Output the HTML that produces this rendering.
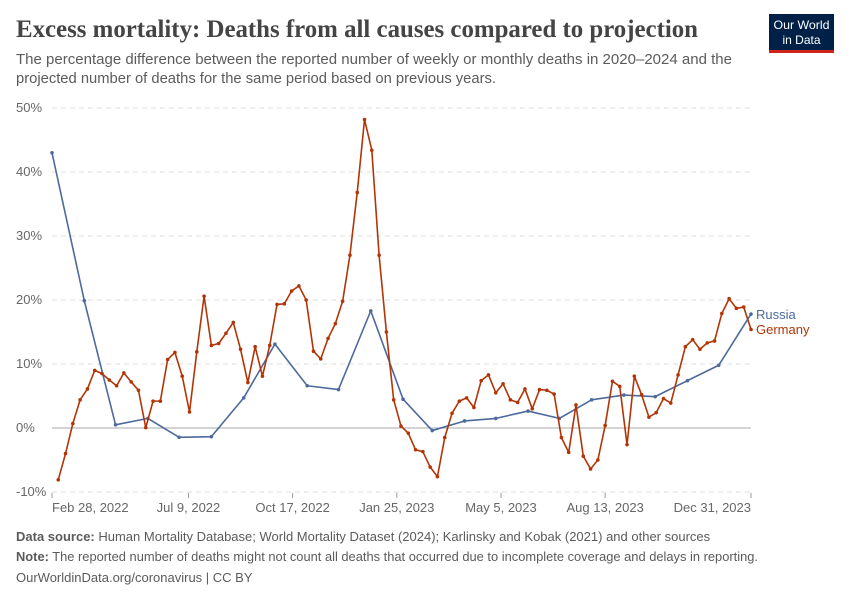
<!DOCTYPE html>
<html><head><meta charset="utf-8"><style>
body{margin:0;background:#fff;}
svg{display:block;font-family:"Liberation Sans",sans-serif;}
</style></head><body>
<svg id="chart" width="850" height="600" viewBox="0 0 850 600">
  <text x="16" y="37" font-family="Liberation Serif,serif" font-weight="bold" font-size="25" fill="#444" textLength="682" lengthAdjust="spacingAndGlyphs">Excess mortality: Deaths from all causes compared to projection</text>
  <text x="16" y="64" font-size="15" fill="#5b5b5b" textLength="716" lengthAdjust="spacingAndGlyphs">The percentage difference between the reported number of weekly or monthly deaths in 2020–2024 and the</text>
  <text x="16" y="83" font-size="15" fill="#5b5b5b" textLength="480" lengthAdjust="spacingAndGlyphs">projected number of deaths for the same period based on previous years.</text>
  <g>
    <rect x="769" y="14" width="65" height="36" fill="#002147"/>
    <rect x="769" y="50" width="65" height="3" fill="#ce261e"/>
    <text x="801.5" y="29" font-size="12" fill="#fff" text-anchor="middle" textLength="56" lengthAdjust="spacingAndGlyphs">Our World</text>
    <text x="801.5" y="44" font-size="12" fill="#fff" text-anchor="middle">in Data</text>
  </g>
  <g id="grid"></g>
  <g id="xaxis"></g>
  <g id="series"></g>
  <text x="16" y="541" font-size="13" fill="#5b5b5b"><tspan font-weight="bold">Data source:</tspan> Human Mortality Database; World Mortality Dataset (2024); Karlinsky and Kobak (2021) and other sources</text>
  <text x="16" y="561" font-size="13" fill="#5b5b5b" textLength="742" lengthAdjust="spacingAndGlyphs"><tspan font-weight="bold">Note:</tspan> The reported number of deaths might not count all deaths that occurred due to incomplete coverage and delays in reporting.</text>
  <text x="16" y="582" font-size="13" fill="#5b5b5b">OurWorldinData.org/coronavirus | CC BY</text>
</svg>
<script>
const yTicks = [-10, 0, 10, 20, 30, 40, 50];
const xTickLabels = ["Feb 28, 2022","Jul 9, 2022","Oct 17, 2022","Jan 25, 2023","May 5, 2023","Aug 13, 2023","Dec 31, 2023"];
const xTickDays = [0, 131, 231, 331, 431, 531, 671];
const russiaDays = [0,31,61,92,122,153,184,214,245,275,306,337,365,396,426,457,487,518,549,579,610,640,671];
const russiaValues = [43.0,19.9,0.5,1.5,-1.45,-1.35,4.7,13.1,6.6,6.0,18.3,4.5,-0.4,1.1,1.5,2.65,1.5,4.4,5.15,4.9,7.4,9.8,17.8];
const germanyStartDay = 6;
const germanyValues = [-8.1,-4.0,0.7,4.4,6.1,9.0,8.5,7.5,6.6,8.6,7.2,5.9,0.05,4.2,4.2,10.7,11.8,8.1,2.5,11.9,20.6,12.9,13.2,14.8,16.5,12.3,7.1,12.7,8.1,12.9,19.3,
19.4,21.4,22.2,20.0,12.0,10.8,14.0,16.3,19.8,27.0,36.8,48.2,43.4,27.0,15.0,4.4,0.3,-0.8,-3.4,-3.7,-6.1,-7.6,-1.5,2.3,4.2,4.7,3.2,7.4,8.3,5.5,
6.9,4.4,4.0,6.1,3.0,6.0,5.9,5.3,-1.5,-3.8,3.6,-4.4,-6.4,-5.0,0.4,7.3,6.5,-2.6,8.1,5.2,1.7,2.4,4.6,3.9,8.3,12.7,13.8,12.3,13.3,13.6,17.9,20.2,18.7,18.9,15.4];

const NS = "http://www.w3.org/2000/svg";
const X0 = 52, X1 = 751, DAYS = 671;
const x = d => X0 + (X1 - X0) * d / DAYS;
const y = v => 428 - v * 6.4;
function mk(tag, attrs, parent) {
  const e = document.createElementNS(NS, tag);
  for (const k in attrs) e.setAttribute(k, attrs[k]);
  parent.appendChild(e);
  return e;
}
const grid = document.getElementById('grid');
yTicks.forEach(t => {
  const l = mk('line', {x1: X0, x2: X1, y1: y(t), y2: y(t), stroke: t === 0 ? '#bbb' : '#ddd', 'stroke-width': t === 0 ? 1.2 : 1, 'stroke-dasharray': t === 0 ? '' : '5,4'}, grid);
  
  
  const tx = mk('text', {x: 16, y: y(t) + 4, 'font-size': 13, fill: '#666'}, grid);
  tx.textContent = t + '%';
  
  
});
const xa = document.getElementById('xaxis');
xTickLabels.forEach((lab, i) => {
  const px = x(xTickDays[i]);
  const tk = mk('line', {x1: px, x2: px, y1: 493, y2: 498, stroke: '#999'}, xa);
  
  
  const anchor = i === 0 ? 'start' : (i === xTickLabels.length - 1 ? 'end' : 'middle');
  const tx = mk('text', {x: px, y: 512, 'font-size': 13, fill: '#666', 'text-anchor': anchor}, xa);
  tx.textContent = lab;
  
  
});
const sg = document.getElementById('series');
function drawSeries(days, vals, color, name) {
  const pts = vals.map((v, i) => x(days[i]).toFixed(2) + ',' + y(v).toFixed(2)).join(' ');
  const pl = mk('polyline', {points: pts, fill: 'none', stroke: color, 'stroke-width': 1.6, 'stroke-linejoin': 'round'}, sg);
  
  
  vals.forEach((v, i) => {
    const c = mk('circle', {cx: x(days[i]), cy: y(v), r: 1.8, fill: color}, sg);
    
    
  });
}
const germanyDays = germanyValues.map((v, i) => germanyStartDay + 7 * i);
drawSeries(russiaDays, russiaValues, '#4c6a9c', 'russia');
drawSeries(germanyDays, germanyValues, '#b13507', 'germany');
const lr = mk('text', {x: 756, y: 319, 'font-size': 13, fill: '#4c6a9c'}, sg);
lr.textContent = 'Russia';


const lg = mk('text', {x: 756, y: 334, 'font-size': 13, fill: '#b13507'}, sg);
lg.textContent = 'Germany';


</script>
</body></html>
